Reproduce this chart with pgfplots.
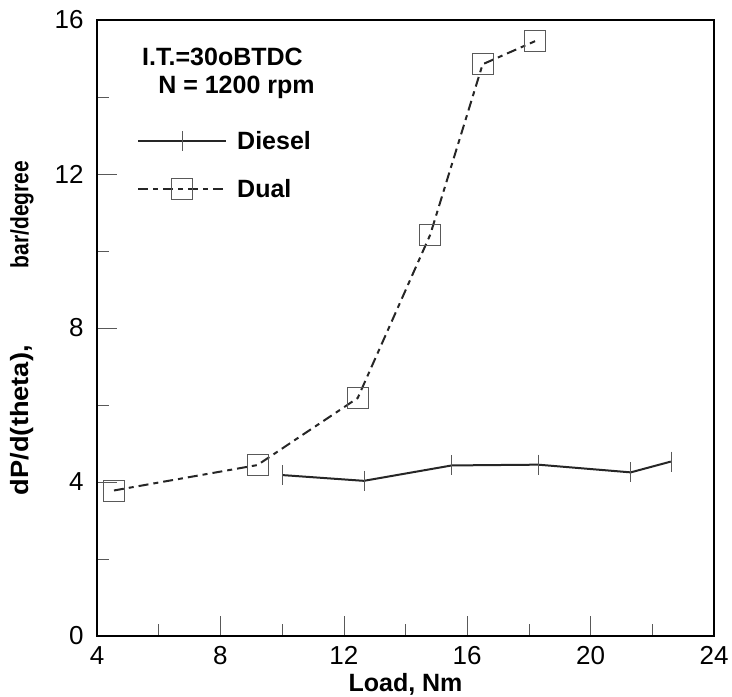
\documentclass[border=0pt]{standalone}
\usepackage{pgfplots}
\pgfplotsset{compat=1.18}
\usepackage{graphicx}
\usepackage{fontspec}
\setmainfont{Liberation Sans}
\begin{document}
\begin{tikzpicture}
\begin{axis}[
  scale only axis,
  width=617pt, height=616pt,
  xmin=4, xmax=24, ymin=0, ymax=16,
  xtick={4,8,...,24}, ytick={0,4,...,16},
  minor xtick={6,10,...,22}, minor ytick={2,6,...,14},
  tick align=inside,
  xtick pos=bottom, ytick pos=left,
  major tick length=20pt, minor tick length=12pt,
  tick style={gray!70!black, line width=0.6pt},
  axis line style={line width=1.6pt},
  /pgf/number format/assume math mode=true,
  tick label style={font=\fontsize{26}{30}\selectfont},
  yticklabel style={xshift=-10pt},
  xticklabel style={yshift=-7pt},
  xlabel={\textbf{Load, Nm}},
  ylabel={\bfseries\scalebox{1.09}[1]{dP/d(theta),}\hspace{77pt}\scalebox{0.84}[1]{bar/degree}},
  label style={font=\fontsize{25}{30}\selectfont},
  xlabel style={yshift=-2pt},
  ylabel style={yshift=14pt},
  legend style={draw=none, fill=none, at={(axis description cs:0.06,0.826)}, anchor=north west,
    font=\fontsize{25}{30}\selectfont\bfseries, row sep=24pt, column sep=8pt},
  legend cell align=left,
  legend image code/.code={\draw[mark repeat=2,mark phase=2,#1] plot coordinates {(0pt,0pt) (44pt,0pt) (88pt,0pt)};},
]
\addplot[black!85, line width=2pt, mark=|, mark size=10pt,
  mark options={solid, gray!70!black, line width=0.6pt}]
  coordinates {(10.0,4.18) (12.65,4.03) (15.5,4.43) (18.3,4.45) (21.3,4.25) (22.6,4.53)};
\addlegendentry{Diesel}
\addplot[black!85, line width=2pt, dash pattern=on 10pt off 5pt on 5pt off 5pt,
  mark=square, mark size=10.5pt,
  mark options={solid, gray!70!black, line width=0.6pt}]
  coordinates {(4.55,3.78) (9.2,4.44) (12.45,6.18) (14.8,10.42) (16.5,14.85) (18.2,15.45)};
\addlegendentry{Dual}
\node[anchor=north west, font=\fontsize{25}{30}\selectfont\bfseries, inner sep=0pt]
  at (axis description cs:0.073,0.955) {I.T.=30oBTDC};
\node[anchor=north west, font=\fontsize{25}{30}\selectfont\bfseries, inner sep=0pt]
  at (axis description cs:0.099,0.91) {N = 1200 rpm};
\end{axis}
\pgfresetboundingbox
\path[use as bounding box] ([shift={(-97pt,-61pt)}]current axis.south west) rectangle ([shift={(18pt,20pt)}]current axis.north east);
\end{tikzpicture}
\end{document}
